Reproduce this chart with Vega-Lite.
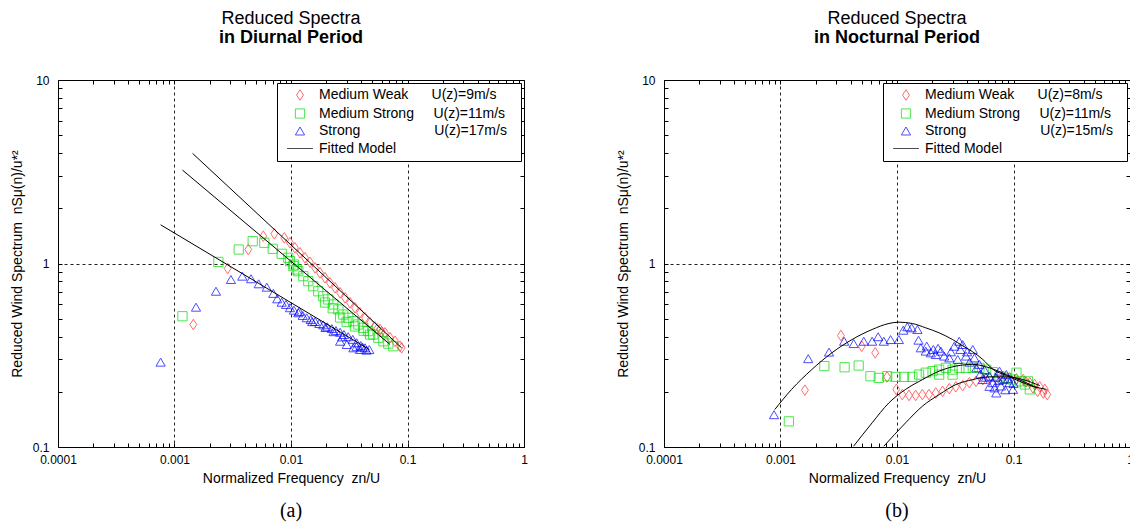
{
  "$schema": "https://vega.github.io/schema/vega-lite/v6.json",
  "background": "white",
  "padding": {"left": 9, "top": 9, "right": 0, "bottom": 0},
  "config": {
    "font": "Liberation Sans",
    "view": {"stroke": "black", "strokeWidth": 1},
    "axis": {"labelFont": "Liberation Sans", "labelFontSize": 12, "labelColor": "black", "tickColor": "black", "domain": false, "labelOverlap": false, "labelFlush": false, "labelBound": false, "titleColor": "black", "titleFont": "Liberation Sans", "titleFontSize": 14, "titleFontWeight": "normal"},
    "legend": {"labelLimit": 400},
    "title": {"font": "Liberation Sans", "fontSize": 18, "fontWeight": "normal", "color": "black", "subtitleFont": "Liberation Sans", "subtitleFontSize": 18, "subtitleFontWeight": "bold", "subtitleColor": "black", "subtitlePadding": 1, "anchor": "middle", "frame": "group", "offset": 27}
  },
  "datasets": {
    "dPts": [
      {"f": 0.00145, "s": 0.465, "series": "Medium Weak"},
      {"f": 0.00286, "s": 0.939, "series": "Medium Weak"},
      {"f": 0.0043, "s": 1.192, "series": "Medium Weak"},
      {"f": 0.00578, "s": 1.409, "series": "Medium Weak"},
      {"f": 0.00719, "s": 1.452, "series": "Medium Weak"},
      {"f": 0.00876, "s": 1.38, "series": "Medium Weak"},
      {"f": 0.0098, "s": 1.297, "series": "Medium Weak"},
      {"f": 0.0108, "s": 1.218, "series": "Medium Weak"},
      {"f": 0.01195, "s": 1.143, "series": "Medium Weak"},
      {"f": 0.01318, "s": 1.074, "series": "Medium Weak"},
      {"f": 0.01456, "s": 1.016, "series": "Medium Weak"},
      {"f": 0.0161, "s": 0.947, "series": "Medium Weak"},
      {"f": 0.01774, "s": 0.89, "series": "Medium Weak"},
      {"f": 0.0196, "s": 0.836, "series": "Medium Weak"},
      {"f": 0.0216, "s": 0.785, "series": "Medium Weak"},
      {"f": 0.0239, "s": 0.737, "series": "Medium Weak"},
      {"f": 0.0264, "s": 0.692, "series": "Medium Weak"},
      {"f": 0.0291, "s": 0.65, "series": "Medium Weak"},
      {"f": 0.0321, "s": 0.611, "series": "Medium Weak"},
      {"f": 0.0354, "s": 0.574, "series": "Medium Weak"},
      {"f": 0.0391, "s": 0.539, "series": "Medium Weak"},
      {"f": 0.0432, "s": 0.506, "series": "Medium Weak"},
      {"f": 0.0477, "s": 0.475, "series": "Medium Weak"},
      {"f": 0.0526, "s": 0.452, "series": "Medium Weak"},
      {"f": 0.055, "s": 0.44, "series": "Medium Weak"},
      {"f": 0.0581, "s": 0.437, "series": "Medium Weak"},
      {"f": 0.06, "s": 0.425, "series": "Medium Weak"},
      {"f": 0.0641, "s": 0.419, "series": "Medium Weak"},
      {"f": 0.0708, "s": 0.394, "series": "Medium Weak"},
      {"f": 0.0781, "s": 0.377, "series": "Medium Weak"},
      {"f": 0.0862, "s": 0.354, "series": "Medium Weak"},
      {"f": 0.0891, "s": 0.347, "series": "Medium Weak"},
      {"f": 0.00117, "s": 0.516, "series": "Medium Strong"},
      {"f": 0.00238, "s": 1.02, "series": "Medium Strong"},
      {"f": 0.00356, "s": 1.192, "series": "Medium Strong"},
      {"f": 0.00469, "s": 1.323, "series": "Medium Strong"},
      {"f": 0.0059, "s": 1.297, "series": "Medium Strong"},
      {"f": 0.00697, "s": 1.202, "series": "Medium Strong"},
      {"f": 0.00832, "s": 1.129, "series": "Medium Strong"},
      {"f": 0.00948, "s": 1.074, "series": "Medium Strong"},
      {"f": 0.0098, "s": 1.03, "series": "Medium Strong"},
      {"f": 0.0106, "s": 0.987, "series": "Medium Strong"},
      {"f": 0.0112, "s": 0.928, "series": "Medium Strong"},
      {"f": 0.01047, "s": 0.967, "series": "Medium Strong"},
      {"f": 0.01155, "s": 0.908, "series": "Medium Strong"},
      {"f": 0.01276, "s": 0.853, "series": "Medium Strong"},
      {"f": 0.01407, "s": 0.801, "series": "Medium Strong"},
      {"f": 0.01553, "s": 0.752, "series": "Medium Strong"},
      {"f": 0.01714, "s": 0.706, "series": "Medium Strong"},
      {"f": 0.0189, "s": 0.663, "series": "Medium Strong"},
      {"f": 0.0196, "s": 0.613, "series": "Medium Strong"},
      {"f": 0.0209, "s": 0.637, "series": "Medium Strong"},
      {"f": 0.0228, "s": 0.57, "series": "Medium Strong"},
      {"f": 0.0231, "s": 0.598, "series": "Medium Strong"},
      {"f": 0.0255, "s": 0.562, "series": "Medium Strong"},
      {"f": 0.0264, "s": 0.508, "series": "Medium Strong"},
      {"f": 0.0281, "s": 0.527, "series": "Medium Strong"},
      {"f": 0.03, "s": 0.48, "series": "Medium Strong"},
      {"f": 0.031, "s": 0.506, "series": "Medium Strong"},
      {"f": 0.0343, "s": 0.485, "series": "Medium Strong"},
      {"f": 0.0354, "s": 0.454, "series": "Medium Strong"},
      {"f": 0.0378, "s": 0.465, "series": "Medium Strong"},
      {"f": 0.0417, "s": 0.446, "series": "Medium Strong"},
      {"f": 0.042, "s": 0.43, "series": "Medium Strong"},
      {"f": 0.0461, "s": 0.428, "series": "Medium Strong"},
      {"f": 0.0477, "s": 0.41, "series": "Medium Strong"},
      {"f": 0.0508, "s": 0.41, "series": "Medium Strong"},
      {"f": 0.0561, "s": 0.394, "series": "Medium Strong"},
      {"f": 0.062, "s": 0.377, "series": "Medium Strong"},
      {"f": 0.0684, "s": 0.366, "series": "Medium Strong"},
      {"f": 0.0755, "s": 0.354, "series": "Medium Strong"},
      {"f": 0.00076, "s": 0.29, "series": "Strong"},
      {"f": 0.00153, "s": 0.578, "series": "Strong"},
      {"f": 0.00227, "s": 0.706, "series": "Strong"},
      {"f": 0.00305, "s": 0.818, "series": "Strong"},
      {"f": 0.00382, "s": 0.853, "series": "Strong"},
      {"f": 0.00454, "s": 0.826, "series": "Strong"},
      {"f": 0.00528, "s": 0.775, "series": "Strong"},
      {"f": 0.0062, "s": 0.743, "series": "Strong"},
      {"f": 0.00705, "s": 0.687, "series": "Strong"},
      {"f": 0.00762, "s": 0.642, "series": "Strong"},
      {"f": 0.00832, "s": 0.615, "series": "Strong"},
      {"f": 0.00906, "s": 0.598, "series": "Strong"},
      {"f": 0.0098, "s": 0.574, "series": "Strong"},
      {"f": 0.0106, "s": 0.557, "series": "Strong"},
      {"f": 0.0118, "s": 0.548, "series": "Strong"},
      {"f": 0.01155, "s": 0.539, "series": "Strong"},
      {"f": 0.0126, "s": 0.521, "series": "Strong"},
      {"f": 0.01364, "s": 0.506, "series": "Strong"},
      {"f": 0.01476, "s": 0.495, "series": "Strong"},
      {"f": 0.0152, "s": 0.482, "series": "Strong"},
      {"f": 0.0161, "s": 0.483, "series": "Strong"},
      {"f": 0.0175, "s": 0.471, "series": "Strong"},
      {"f": 0.0189, "s": 0.463, "series": "Strong"},
      {"f": 0.0198, "s": 0.448, "series": "Strong"},
      {"f": 0.0205, "s": 0.452, "series": "Strong"},
      {"f": 0.0224, "s": 0.442, "series": "Strong"},
      {"f": 0.0232, "s": 0.425, "series": "Strong"},
      {"f": 0.0243, "s": 0.431, "series": "Strong"},
      {"f": 0.0264, "s": 0.422, "series": "Strong"},
      {"f": 0.0264, "s": 0.377, "series": "Strong"},
      {"f": 0.0275, "s": 0.398, "series": "Strong"},
      {"f": 0.0285, "s": 0.41, "series": "Strong"},
      {"f": 0.0301, "s": 0.362, "series": "Strong"},
      {"f": 0.031, "s": 0.399, "series": "Strong"},
      {"f": 0.0339, "s": 0.386, "series": "Strong"},
      {"f": 0.0343, "s": 0.347, "series": "Strong"},
      {"f": 0.0365, "s": 0.352, "series": "Strong"},
      {"f": 0.0366, "s": 0.37, "series": "Strong"},
      {"f": 0.0391, "s": 0.34, "series": "Strong"},
      {"f": 0.0397, "s": 0.357, "series": "Strong"},
      {"f": 0.0412, "s": 0.35, "series": "Strong"},
      {"f": 0.0432, "s": 0.347, "series": "Strong"},
      {"f": 0.0445, "s": 0.337, "series": "Strong"},
      {"f": 0.047, "s": 0.34, "series": "Strong"}
    ],
    "dFit": [
      {"f": 0.00143, "s": 3.98, "curve": "A", "series": "Fitted Model"},
      {"f": 0.089, "s": 0.347, "curve": "A", "series": "Fitted Model"},
      {"f": 0.00117, "s": 3.23, "curve": "B", "series": "Fitted Model"},
      {"f": 0.0708, "s": 0.362, "curve": "B", "series": "Fitted Model"},
      {"f": 0.00076, "s": 1.625, "curve": "C", "series": "Fitted Model"},
      {"f": 0.047, "s": 0.34, "curve": "C", "series": "Fitted Model"}
    ],
    "nPts": [
      {"f": 0.00162, "s": 0.204, "series": "Medium Weak"},
      {"f": 0.0033, "s": 0.405, "series": "Medium Weak"},
      {"f": 0.00498, "s": 0.354, "series": "Medium Weak"},
      {"f": 0.0065, "s": 0.326, "series": "Medium Weak"},
      {"f": 0.00822, "s": 0.241, "series": "Medium Weak"},
      {"f": 0.00986, "s": 0.206, "series": "Medium Weak"},
      {"f": 0.0111, "s": 0.193, "series": "Medium Weak"},
      {"f": 0.01267, "s": 0.191, "series": "Medium Weak"},
      {"f": 0.01446, "s": 0.191, "series": "Medium Weak"},
      {"f": 0.0165, "s": 0.193, "series": "Medium Weak"},
      {"f": 0.0188, "s": 0.193, "series": "Medium Weak"},
      {"f": 0.0215, "s": 0.197, "series": "Medium Weak"},
      {"f": 0.0246, "s": 0.201, "series": "Medium Weak"},
      {"f": 0.0281, "s": 0.208, "series": "Medium Weak"},
      {"f": 0.032, "s": 0.213, "series": "Medium Weak"},
      {"f": 0.0366, "s": 0.216, "series": "Medium Weak"},
      {"f": 0.0418, "s": 0.224, "series": "Medium Weak"},
      {"f": 0.0477, "s": 0.228, "series": "Medium Weak"},
      {"f": 0.0545, "s": 0.233, "series": "Medium Weak"},
      {"f": 0.0622, "s": 0.238, "series": "Medium Weak"},
      {"f": 0.0711, "s": 0.235, "series": "Medium Weak"},
      {"f": 0.0811, "s": 0.238, "series": "Medium Weak"},
      {"f": 0.0925, "s": 0.238, "series": "Medium Weak"},
      {"f": 0.106, "s": 0.235, "series": "Medium Weak"},
      {"f": 0.121, "s": 0.233, "series": "Medium Weak"},
      {"f": 0.128, "s": 0.226, "series": "Medium Weak"},
      {"f": 0.138, "s": 0.224, "series": "Medium Weak"},
      {"f": 0.147, "s": 0.21, "series": "Medium Weak"},
      {"f": 0.152, "s": 0.219, "series": "Medium Weak"},
      {"f": 0.161, "s": 0.201, "series": "Medium Weak"},
      {"f": 0.168, "s": 0.213, "series": "Medium Weak"},
      {"f": 0.18, "s": 0.197, "series": "Medium Weak"},
      {"f": 0.186, "s": 0.206, "series": "Medium Weak"},
      {"f": 0.195, "s": 0.193, "series": "Medium Weak"},
      {"f": 0.00118, "s": 0.138, "series": "Medium Strong"},
      {"f": 0.00238, "s": 0.276, "series": "Medium Strong"},
      {"f": 0.00355, "s": 0.272, "series": "Medium Strong"},
      {"f": 0.00469, "s": 0.278, "series": "Medium Strong"},
      {"f": 0.00592, "s": 0.243, "series": "Medium Strong"},
      {"f": 0.00698, "s": 0.238, "series": "Medium Strong"},
      {"f": 0.00824, "s": 0.243, "series": "Medium Strong"},
      {"f": 0.00973, "s": 0.241, "series": "Medium Strong"},
      {"f": 0.01148, "s": 0.241, "series": "Medium Strong"},
      {"f": 0.01355, "s": 0.241, "series": "Medium Strong"},
      {"f": 0.01547, "s": 0.248, "series": "Medium Strong"},
      {"f": 0.01766, "s": 0.254, "series": "Medium Strong"},
      {"f": 0.0202, "s": 0.259, "series": "Medium Strong"},
      {"f": 0.023, "s": 0.264, "series": "Medium Strong"},
      {"f": 0.023, "s": 0.248, "series": "Medium Strong"},
      {"f": 0.0263, "s": 0.27, "series": "Medium Strong"},
      {"f": 0.03, "s": 0.264, "series": "Medium Strong"},
      {"f": 0.03, "s": 0.248, "series": "Medium Strong"},
      {"f": 0.0343, "s": 0.27, "series": "Medium Strong"},
      {"f": 0.0391, "s": 0.27, "series": "Medium Strong"},
      {"f": 0.0447, "s": 0.27, "series": "Medium Strong"},
      {"f": 0.051, "s": 0.27, "series": "Medium Strong"},
      {"f": 0.0583, "s": 0.264, "series": "Medium Strong"},
      {"f": 0.0665, "s": 0.256, "series": "Medium Strong"},
      {"f": 0.0759, "s": 0.243, "series": "Medium Strong"},
      {"f": 0.0867, "s": 0.238, "series": "Medium Strong"},
      {"f": 0.0989, "s": 0.233, "series": "Medium Strong"},
      {"f": 0.106, "s": 0.254, "series": "Medium Strong"},
      {"f": 0.113, "s": 0.228, "series": "Medium Strong"},
      {"f": 0.125, "s": 0.219, "series": "Medium Strong"},
      {"f": 0.133, "s": 0.228, "series": "Medium Strong"},
      {"f": 0.138, "s": 0.206, "series": "Medium Strong"},
      {"f": 0.00088, "s": 0.15, "series": "Strong"},
      {"f": 0.00173, "s": 0.303, "series": "Strong"},
      {"f": 0.00261, "s": 0.329, "series": "Strong"},
      {"f": 0.00352, "s": 0.377, "series": "Strong"},
      {"f": 0.00425, "s": 0.366, "series": "Strong"},
      {"f": 0.00518, "s": 0.377, "series": "Strong"},
      {"f": 0.00612, "s": 0.377, "series": "Strong"},
      {"f": 0.00689, "s": 0.399, "series": "Strong"},
      {"f": 0.00771, "s": 0.377, "series": "Strong"},
      {"f": 0.00881, "s": 0.385, "series": "Strong"},
      {"f": 0.01038, "s": 0.385, "series": "Strong"},
      {"f": 0.01132, "s": 0.433, "series": "Strong"},
      {"f": 0.01227, "s": 0.452, "series": "Strong"},
      {"f": 0.01336, "s": 0.446, "series": "Strong"},
      {"f": 0.01497, "s": 0.437, "series": "Strong"},
      {"f": 0.0153, "s": 0.382, "series": "Strong"},
      {"f": 0.016, "s": 0.347, "series": "Strong"},
      {"f": 0.01766, "s": 0.333, "series": "Strong"},
      {"f": 0.018, "s": 0.355, "series": "Strong"},
      {"f": 0.0195, "s": 0.326, "series": "Strong"},
      {"f": 0.0205, "s": 0.34, "series": "Strong"},
      {"f": 0.0215, "s": 0.319, "series": "Strong"},
      {"f": 0.0225, "s": 0.345, "series": "Strong"},
      {"f": 0.0238, "s": 0.333, "series": "Strong"},
      {"f": 0.0254, "s": 0.313, "series": "Strong"},
      {"f": 0.0281, "s": 0.306, "series": "Strong"},
      {"f": 0.029, "s": 0.33, "series": "Strong"},
      {"f": 0.031, "s": 0.354, "series": "Strong"},
      {"f": 0.0332, "s": 0.3, "series": "Strong"},
      {"f": 0.0342, "s": 0.377, "series": "Strong"},
      {"f": 0.035, "s": 0.34, "series": "Strong"},
      {"f": 0.0366, "s": 0.362, "series": "Strong"},
      {"f": 0.0391, "s": 0.313, "series": "Strong"},
      {"f": 0.04, "s": 0.33, "series": "Strong"},
      {"f": 0.042, "s": 0.29, "series": "Strong"},
      {"f": 0.0447, "s": 0.34, "series": "Strong"},
      {"f": 0.0462, "s": 0.306, "series": "Strong"},
      {"f": 0.048, "s": 0.27, "series": "Strong"},
      {"f": 0.0509, "s": 0.282, "series": "Strong"},
      {"f": 0.052, "s": 0.25, "series": "Strong"},
      {"f": 0.0545, "s": 0.233, "series": "Strong"},
      {"f": 0.0563, "s": 0.264, "series": "Strong"},
      {"f": 0.058, "s": 0.24, "series": "Strong"},
      {"f": 0.0622, "s": 0.243, "series": "Strong"},
      {"f": 0.0622, "s": 0.214, "series": "Strong"},
      {"f": 0.0665, "s": 0.224, "series": "Strong"},
      {"f": 0.0687, "s": 0.21, "series": "Strong"},
      {"f": 0.07, "s": 0.24, "series": "Strong"},
      {"f": 0.0711, "s": 0.197, "series": "Strong"},
      {"f": 0.075, "s": 0.23, "series": "Strong"},
      {"f": 0.0759, "s": 0.259, "series": "Strong"},
      {"f": 0.078, "s": 0.215, "series": "Strong"},
      {"f": 0.0811, "s": 0.233, "series": "Strong"},
      {"f": 0.085, "s": 0.205, "series": "Strong"},
      {"f": 0.0867, "s": 0.248, "series": "Strong"},
      {"f": 0.09, "s": 0.235, "series": "Strong"},
      {"f": 0.0925, "s": 0.224, "series": "Strong"},
      {"f": 0.0989, "s": 0.206, "series": "Strong"},
      {"f": 0.1, "s": 0.222, "series": "Strong"}
    ],
    "nFit": [
      {"f": 0.000893, "s": 0.16, "curve": "A", "series": "Fitted Model"},
      {"f": 0.001245, "s": 0.206, "curve": "A", "series": "Fitted Model"},
      {"f": 0.001853, "s": 0.264, "curve": "A", "series": "Fitted Model"},
      {"f": 0.00276, "s": 0.326, "curve": "A", "series": "Fitted Model"},
      {"f": 0.00411, "s": 0.385, "curve": "A", "series": "Fitted Model"},
      {"f": 0.00612, "s": 0.437, "curve": "A", "series": "Fitted Model"},
      {"f": 0.00852, "s": 0.471, "curve": "A", "series": "Fitted Model"},
      {"f": 0.01038, "s": 0.479, "curve": "A", "series": "Fitted Model"},
      {"f": 0.01355, "s": 0.471, "curve": "A", "series": "Fitted Model"},
      {"f": 0.01766, "s": 0.446, "curve": "A", "series": "Fitted Model"},
      {"f": 0.023, "s": 0.419, "curve": "A", "series": "Fitted Model"},
      {"f": 0.03, "s": 0.385, "curve": "A", "series": "Fitted Model"},
      {"f": 0.0366, "s": 0.356, "curve": "A", "series": "Fitted Model"},
      {"f": 0.0447, "s": 0.33, "curve": "A", "series": "Fitted Model"},
      {"f": 0.0545, "s": 0.3, "curve": "A", "series": "Fitted Model"},
      {"f": 0.0666, "s": 0.265, "curve": "A", "series": "Fitted Model"},
      {"f": 0.0868, "s": 0.245, "curve": "A", "series": "Fitted Model"},
      {"f": 0.113, "s": 0.228, "curve": "A", "series": "Fitted Model"},
      {"f": 0.147, "s": 0.214, "curve": "A", "series": "Fitted Model"},
      {"f": 0.192, "s": 0.206, "curve": "A", "series": "Fitted Model"},
      {"f": 0.00424, "s": 0.101, "curve": "B", "series": "Fitted Model"},
      {"f": 0.00612, "s": 0.1355, "curve": "B", "series": "Fitted Model"},
      {"f": 0.00852, "s": 0.174, "curve": "B", "series": "Fitted Model"},
      {"f": 0.01186, "s": 0.206, "curve": "B", "series": "Fitted Model"},
      {"f": 0.01655, "s": 0.233, "curve": "B", "series": "Fitted Model"},
      {"f": 0.023, "s": 0.259, "curve": "B", "series": "Fitted Model"},
      {"f": 0.0321, "s": 0.276, "curve": "B", "series": "Fitted Model"},
      {"f": 0.0447, "s": 0.282, "curve": "B", "series": "Fitted Model"},
      {"f": 0.0622, "s": 0.27, "curve": "B", "series": "Fitted Model"},
      {"f": 0.0868, "s": 0.248, "curve": "B", "series": "Fitted Model"},
      {"f": 0.121, "s": 0.228, "curve": "B", "series": "Fitted Model"},
      {"f": 0.158, "s": 0.21, "curve": "B", "series": "Fitted Model"},
      {"f": 0.00771, "s": 0.101, "curve": "C", "series": "Fitted Model"},
      {"f": 0.01186, "s": 0.1355, "curve": "C", "series": "Fitted Model"},
      {"f": 0.01655, "s": 0.167, "curve": "C", "series": "Fitted Model"},
      {"f": 0.023, "s": 0.193, "curve": "C", "series": "Fitted Model"},
      {"f": 0.0321, "s": 0.219, "curve": "C", "series": "Fitted Model"},
      {"f": 0.0447, "s": 0.233, "curve": "C", "series": "Fitted Model"},
      {"f": 0.0622, "s": 0.241, "curve": "C", "series": "Fitted Model"},
      {"f": 0.0868, "s": 0.241, "curve": "C", "series": "Fitted Model"},
      {"f": 0.121, "s": 0.233, "curve": "C", "series": "Fitted Model"},
      {"f": 0.168, "s": 0.216, "curve": "C", "series": "Fitted Model"}
    ]
  },
  "spacing": 87,
  "resolve": {"scale": {"color": "independent", "shape": "independent"}, "legend": {"color": "independent", "shape": "independent"}},
  "hconcat": [
    {
      "bounds": "flush",
      "spacing": 52,
      "resolve": {"scale": {"color": "independent", "shape": "independent"}, "legend": {"color": "independent", "shape": "independent"}},
      "vconcat": [
        {
          "title": {"text": "Reduced Spectra", "subtitle": "in Diurnal Period"},
          "width": 466,
          "height": 367,
          "resolve": {"axis": {"x": "independent", "y": "independent"}},
          "layer": [
            {
              "data": {"name": "dPts"},
              "mark": {"type": "point", "filled": false, "strokeWidth": 1, "size": 85, "clip": true},
              "encoding": {
                "x": {"field": "f", "type": "quantitative", "scale": {"type": "log", "domain": [0.0001, 1], "nice": false},
                  "axis": {"orient": "bottom", "values": [0.0001,0.0002,0.0003,0.0004,0.0005,0.0006,0.0007,0.0008,0.0009,0.001,0.002,0.003,0.004,0.005,0.006,0.007,0.008,0.009,0.01,0.02,0.03,0.04,0.05,0.06,0.07,0.08,0.09,0.1,0.2,0.3,0.4,0.5,0.6,0.7,0.8,0.9,1],
                    "labelExpr": "indexof([0.0001,0.001,0.01,0.1,1], datum.value) >= 0 ? '' + datum.value : ''",
                    "tickSize": -4, "labelPadding": 11, "grid": true, "gridColor": "#222", "gridDash": [3, 3],
                    "gridOpacity": {"condition": {"test": "indexof([0.001,0.01,0.1], datum.value) >= 0", "value": 1}, "value": 0},
                    "title": "Normalized Frequency\u00a0\u00a0zn/U", "titlePadding": 6}},
                "y": {"field": "s", "type": "quantitative", "scale": {"type": "log", "domain": [0.1, 10], "nice": false},
                  "axis": {"orient": "left", "values": [0.1,0.2,0.3,0.4,0.5,0.6,0.7,0.8,0.9,1,2,3,4,5,6,7,8,9,10],
                    "labelExpr": "indexof([0.1,1,10], datum.value) >= 0 ? '' + datum.value : ''",
                    "tickSize": -4, "labelPadding": 13, "grid": true, "gridColor": "#222", "gridDash": [3, 3],
                    "gridOpacity": {"condition": {"test": "datum.value == 1", "value": 1}, "value": 0},
                    "title": "Reduced Wind Spectrum\u00a0\u00a0nS\u03bc(n)/u*\u00b2", "titlePadding": 8}},
                "color": {"field": "series", "type": "nominal",
                  "scale": {"domain": ["Medium Weak", "Medium Strong", "Strong", "Fitted Model"], "range": ["#ff3030", "#00dd00", "#0000ff", "black"]},
                  "legend": {"title": null, "orient": "top-right", "offset": 3, "strokeColor": "black", "fillColor": "white", "padding": 5, "symbolOffset": 11, "labelOffset": 12, "labelFontSize": 14, "labelFont": "Liberation Sans", "labelColor": "black", "symbolSize": 85, "symbolStrokeWidth": 1, "rowPadding": 3.5, "labelLimit": 400,
                    "labelExpr": "datum.label == 'Medium Weak' ? 'Medium Weak\u00a0\u00a0\u00a0\u00a0\u00a0\u00a0U(z)=9m/s' : datum.label == 'Medium Strong' ? 'Medium Strong\u00a0\u00a0\u00a0\u00a0\u00a0U(z)=11m/s\u2800' : datum.label == 'Strong' ? 'Strong\u00a0\u00a0\u00a0\u00a0\u00a0\u00a0\u00a0\u00a0\u00a0\u00a0\u00a0\u00a0\u00a0\u00a0\u00a0\u00a0\u00a0\u00a0\u00a0U(z)=17m/s' : datum.label"}},
                "shape": {"field": "series", "type": "nominal",
                  "scale": {"domain": ["Medium Weak", "Medium Strong", "Strong", "Fitted Model"], "range": ["M0,-1.15L0.75,0L0,1.15L-0.75,0Z", "square", "triangle-up", "M-2.8,0L2.8,0"]},
                  "legend": {"title": null, "orient": "top-right", "offset": 3, "strokeColor": "black", "fillColor": "white", "padding": 5, "symbolOffset": 11, "labelOffset": 12, "labelFontSize": 14, "labelFont": "Liberation Sans", "labelColor": "black", "symbolSize": 85, "symbolStrokeWidth": 1, "rowPadding": 3.5, "labelLimit": 400,
                    "labelExpr": "datum.label == 'Medium Weak' ? 'Medium Weak\u00a0\u00a0\u00a0\u00a0\u00a0\u00a0U(z)=9m/s' : datum.label == 'Medium Strong' ? 'Medium Strong\u00a0\u00a0\u00a0\u00a0\u00a0U(z)=11m/s\u2800' : datum.label == 'Strong' ? 'Strong\u00a0\u00a0\u00a0\u00a0\u00a0\u00a0\u00a0\u00a0\u00a0\u00a0\u00a0\u00a0\u00a0\u00a0\u00a0\u00a0\u00a0\u00a0\u00a0U(z)=17m/s' : datum.label"}}
              }
            },
            {
              "data": {"name": "dFit"},
              "mark": {"type": "line", "strokeWidth": 1, "clip": true},
              "encoding": {
                "x": {"field": "f", "type": "quantitative", "scale": {"type": "log", "domain": [0.0001, 1], "nice": false},
                  "axis": {"orient": "top", "values": [0.0001,0.0002,0.0003,0.0004,0.0005,0.0006,0.0007,0.0008,0.0009,0.001,0.002,0.003,0.004,0.005,0.006,0.007,0.008,0.009,0.01,0.02,0.03,0.04,0.05,0.06,0.07,0.08,0.09,0.1,0.2,0.3,0.4,0.5,0.6,0.7,0.8,0.9,1], "labels": false, "tickSize": -4, "grid": false, "title": null}},
                "y": {"field": "s", "type": "quantitative", "scale": {"type": "log", "domain": [0.1, 10], "nice": false},
                  "axis": {"orient": "right", "values": [0.1,0.2,0.3,0.4,0.5,0.6,0.7,0.8,0.9,1,2,3,4,5,6,7,8,9,10], "labels": false, "tickSize": -4, "grid": false, "title": null}},
                "detail": {"field": "curve"},
                "color": {"field": "series", "type": "nominal",
                  "scale": {"domain": ["Medium Weak", "Medium Strong", "Strong", "Fitted Model"], "range": ["#ff3030", "#00dd00", "#0000ff", "black"]},
                  "legend": {"title": null, "orient": "top-right", "offset": 3, "strokeColor": "black", "fillColor": "white", "padding": 5, "symbolOffset": 11, "labelOffset": 12, "labelFontSize": 14, "labelFont": "Liberation Sans", "labelColor": "black", "symbolSize": 85, "symbolStrokeWidth": 1, "rowPadding": 3.5, "labelLimit": 400,
                    "labelExpr": "datum.label == 'Medium Weak' ? 'Medium Weak\u00a0\u00a0\u00a0\u00a0\u00a0\u00a0U(z)=9m/s' : datum.label == 'Medium Strong' ? 'Medium Strong\u00a0\u00a0\u00a0\u00a0\u00a0U(z)=11m/s\u2800' : datum.label == 'Strong' ? 'Strong\u00a0\u00a0\u00a0\u00a0\u00a0\u00a0\u00a0\u00a0\u00a0\u00a0\u00a0\u00a0\u00a0\u00a0\u00a0\u00a0\u00a0\u00a0\u00a0U(z)=17m/s' : datum.label"}}
              }
            }
          ]
        },
        {
          "width": 466,
          "height": 24,
          "view": {"stroke": null},
          "data": {"values": [{"cap": "(a)"}]},
          "mark": {"type": "text", "font": "Liberation Serif", "fontSize": 20, "color": "black"},
          "encoding": {"text": {"field": "cap", "type": "nominal"}}
        }
      ]
    },
    {
      "bounds": "flush",
      "spacing": 52,
      "resolve": {"scale": {"color": "independent", "shape": "independent"}, "legend": {"color": "independent", "shape": "independent"}},
      "vconcat": [
        {
          "title": {"text": "Reduced Spectra", "subtitle": "in Nocturnal Period"},
          "width": 466,
          "height": 367,
          "resolve": {"axis": {"x": "independent", "y": "independent"}},
          "layer": [
            {
              "data": {"name": "nPts"},
              "mark": {"type": "point", "filled": false, "strokeWidth": 1, "size": 85, "clip": true},
              "encoding": {
                "x": {"field": "f", "type": "quantitative", "scale": {"type": "log", "domain": [0.0001, 1], "nice": false},
                  "axis": {"orient": "bottom", "values": [0.0001,0.0002,0.0003,0.0004,0.0005,0.0006,0.0007,0.0008,0.0009,0.001,0.002,0.003,0.004,0.005,0.006,0.007,0.008,0.009,0.01,0.02,0.03,0.04,0.05,0.06,0.07,0.08,0.09,0.1,0.2,0.3,0.4,0.5,0.6,0.7,0.8,0.9,1],
                    "labelExpr": "indexof([0.0001,0.001,0.01,0.1,1], datum.value) >= 0 ? '' + datum.value : ''",
                    "tickSize": -4, "labelPadding": 11, "grid": true, "gridColor": "#222", "gridDash": [3, 3],
                    "gridOpacity": {"condition": {"test": "indexof([0.001,0.01,0.1], datum.value) >= 0", "value": 1}, "value": 0},
                    "title": "Normalized Frequency\u00a0\u00a0zn/U", "titlePadding": 6}},
                "y": {"field": "s", "type": "quantitative", "scale": {"type": "log", "domain": [0.1, 10], "nice": false},
                  "axis": {"orient": "left", "values": [0.1,0.2,0.3,0.4,0.5,0.6,0.7,0.8,0.9,1,2,3,4,5,6,7,8,9,10],
                    "labelExpr": "indexof([0.1,1,10], datum.value) >= 0 ? '' + datum.value : ''",
                    "tickSize": -4, "labelPadding": 13, "grid": true, "gridColor": "#222", "gridDash": [3, 3],
                    "gridOpacity": {"condition": {"test": "datum.value == 1", "value": 1}, "value": 0},
                    "title": "Reduced Wind Spectrum\u00a0\u00a0nS\u03bc(n)/u*\u00b2", "titlePadding": 8}},
                "color": {"field": "series", "type": "nominal",
                  "scale": {"domain": ["Medium Weak", "Medium Strong", "Strong", "Fitted Model"], "range": ["#ff3030", "#00dd00", "#0000ff", "black"]},
                  "legend": {"title": null, "orient": "top-right", "offset": 3, "strokeColor": "black", "fillColor": "white", "padding": 5, "symbolOffset": 11, "labelOffset": 12, "labelFontSize": 14, "labelFont": "Liberation Sans", "labelColor": "black", "symbolSize": 85, "symbolStrokeWidth": 1, "rowPadding": 3.5, "labelLimit": 400,
                    "labelExpr": "datum.label == 'Medium Weak' ? 'Medium Weak\u00a0\u00a0\u00a0\u00a0\u00a0\u00a0U(z)=8m/s' : datum.label == 'Medium Strong' ? 'Medium Strong\u00a0\u00a0\u00a0\u00a0\u00a0U(z)=11m/s\u2800' : datum.label == 'Strong' ? 'Strong\u00a0\u00a0\u00a0\u00a0\u00a0\u00a0\u00a0\u00a0\u00a0\u00a0\u00a0\u00a0\u00a0\u00a0\u00a0\u00a0\u00a0\u00a0\u00a0U(z)=15m/s' : datum.label"}},
                "shape": {"field": "series", "type": "nominal",
                  "scale": {"domain": ["Medium Weak", "Medium Strong", "Strong", "Fitted Model"], "range": ["M0,-1.15L0.75,0L0,1.15L-0.75,0Z", "square", "triangle-up", "M-2.8,0L2.8,0"]},
                  "legend": {"title": null, "orient": "top-right", "offset": 3, "strokeColor": "black", "fillColor": "white", "padding": 5, "symbolOffset": 11, "labelOffset": 12, "labelFontSize": 14, "labelFont": "Liberation Sans", "labelColor": "black", "symbolSize": 85, "symbolStrokeWidth": 1, "rowPadding": 3.5, "labelLimit": 400,
                    "labelExpr": "datum.label == 'Medium Weak' ? 'Medium Weak\u00a0\u00a0\u00a0\u00a0\u00a0\u00a0U(z)=8m/s' : datum.label == 'Medium Strong' ? 'Medium Strong\u00a0\u00a0\u00a0\u00a0\u00a0U(z)=11m/s\u2800' : datum.label == 'Strong' ? 'Strong\u00a0\u00a0\u00a0\u00a0\u00a0\u00a0\u00a0\u00a0\u00a0\u00a0\u00a0\u00a0\u00a0\u00a0\u00a0\u00a0\u00a0\u00a0\u00a0U(z)=15m/s' : datum.label"}}
              }
            },
            {
              "data": {"name": "nFit"},
              "mark": {"type": "line", "strokeWidth": 1, "clip": true, "interpolate": "monotone"},
              "encoding": {
                "x": {"field": "f", "type": "quantitative", "scale": {"type": "log", "domain": [0.0001, 1], "nice": false},
                  "axis": {"orient": "top", "values": [0.0001,0.0002,0.0003,0.0004,0.0005,0.0006,0.0007,0.0008,0.0009,0.001,0.002,0.003,0.004,0.005,0.006,0.007,0.008,0.009,0.01,0.02,0.03,0.04,0.05,0.06,0.07,0.08,0.09,0.1,0.2,0.3,0.4,0.5,0.6,0.7,0.8,0.9,1], "labels": false, "tickSize": -4, "grid": false, "title": null}},
                "y": {"field": "s", "type": "quantitative", "scale": {"type": "log", "domain": [0.1, 10], "nice": false},
                  "axis": {"orient": "right", "values": [0.1,0.2,0.3,0.4,0.5,0.6,0.7,0.8,0.9,1,2,3,4,5,6,7,8,9,10], "labels": false, "tickSize": -4, "grid": false, "title": null}},
                "detail": {"field": "curve"},
                "color": {"field": "series", "type": "nominal",
                  "scale": {"domain": ["Medium Weak", "Medium Strong", "Strong", "Fitted Model"], "range": ["#ff3030", "#00dd00", "#0000ff", "black"]},
                  "legend": {"title": null, "orient": "top-right", "offset": 3, "strokeColor": "black", "fillColor": "white", "padding": 5, "symbolOffset": 11, "labelOffset": 12, "labelFontSize": 14, "labelFont": "Liberation Sans", "labelColor": "black", "symbolSize": 85, "symbolStrokeWidth": 1, "rowPadding": 3.5, "labelLimit": 400,
                    "labelExpr": "datum.label == 'Medium Weak' ? 'Medium Weak\u00a0\u00a0\u00a0\u00a0\u00a0\u00a0U(z)=8m/s' : datum.label == 'Medium Strong' ? 'Medium Strong\u00a0\u00a0\u00a0\u00a0\u00a0U(z)=11m/s\u2800' : datum.label == 'Strong' ? 'Strong\u00a0\u00a0\u00a0\u00a0\u00a0\u00a0\u00a0\u00a0\u00a0\u00a0\u00a0\u00a0\u00a0\u00a0\u00a0\u00a0\u00a0\u00a0\u00a0U(z)=15m/s' : datum.label"}}
              }
            }
          ]
        },
        {
          "width": 466,
          "height": 24,
          "view": {"stroke": null},
          "data": {"values": [{"cap": "(b)"}]},
          "mark": {"type": "text", "font": "Liberation Serif", "fontSize": 20, "color": "black"},
          "encoding": {"text": {"field": "cap", "type": "nominal"}}
        }
      ]
    }
  ]
}
